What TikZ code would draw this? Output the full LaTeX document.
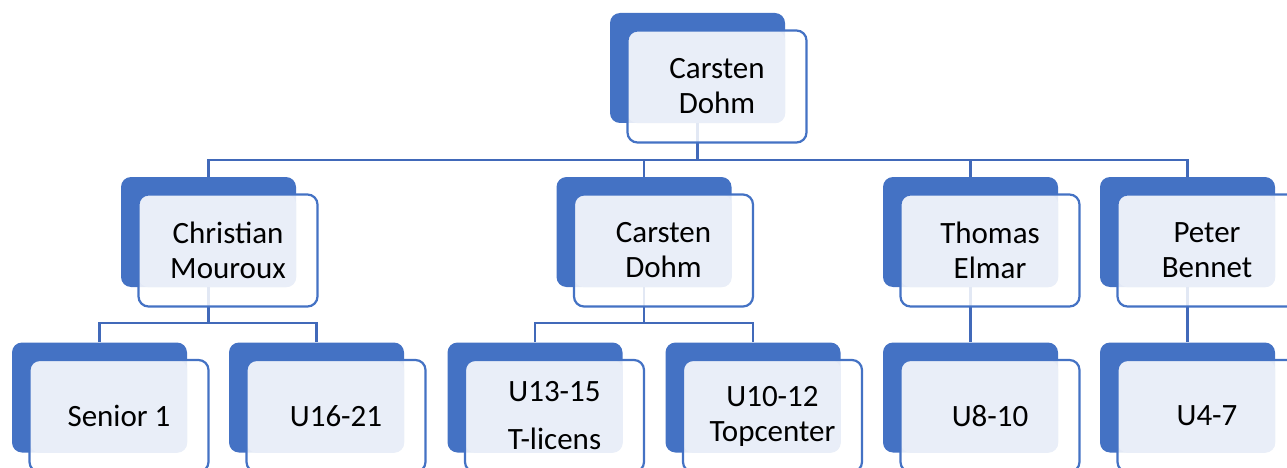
\documentclass[tikz,border=0pt]{standalone}
\usepackage{fontspec}
\setmainfont{Carlito}

\definecolor{chartblue}{HTML}{4472C4}
\definecolor{chartlight}{HTML}{E9EEF8}
\definecolor{linkblue}{HTML}{4169B9}

\pgfdeclarelayer{lines}
\pgfsetlayers{lines,main}

\tikzset{
  back/.style={rectangle, rounded corners=10pt, fill=chartblue,
    minimum width=175pt, minimum height=110pt, inner sep=0pt},
  front/.style={rectangle, rounded corners=10pt, draw=chartblue, line width=2.2pt,
    fill=white, fill opacity=0.85, text opacity=1,
    minimum width=179pt, minimum height=112pt, inner sep=0pt,
    align=center, font=\fontsize{31}{35}\selectfont,
    path picture={\fill[chartlight, fill opacity=1, rounded corners=10pt]
      (path picture bounding box.north west) rectangle (#1.south east);}},
  link/.style={draw=linkblue, line width=2.3pt}
}

\begin{document}
\begin{tikzpicture}[x=1pt, y=-1pt]
  \useasboundingbox (0,0) rectangle (1287,468);
  \clip (0,0) rectangle (1287,468);

  % top
  \node[back] (cd1b) at (697.5,68) {};
  \node[front=cd1b] (cd1) at ([shift={(19.5,18.5)}]cd1b) {Carsten\\Dohm};

  % level 2
  \node[back] (cmb) at (208.5,232) {};
  \node[front=cmb] (cm) at ([shift={(19.5,18.5)}]cmb) {Christian\\Mouroux};
  \node[back] (cd2b) at (644,232) {};
  \node[front=cd2b] (cd2) at ([shift={(19.5,18.5)}]cd2b) {Carsten\\Dohm};
  \node[back] (teb) at (970.5,232) {};
  \node[front=teb] (te) at ([shift={(19.5,18.5)}]teb) {Thomas\\Elmar};
  \node[back] (pbb) at (1187.5,232) {};
  \node[front=pbb] (pb) at ([shift={(19.5,18.5)}]pbb) {Peter\\Bennet};

  % level 3
  \node[back] (senb) at (99.5,397.5) {};
  \node[front=senb] (sen) at ([shift={(19.5,18.5)}]senb) {Senior 1};
  \node[back] (u16b) at (316.5,397.5) {};
  \node[front=u16b] (u16) at ([shift={(19.5,18.5)}]u16b) {U16-21};
  \node[back] (u13b) at (535,397.5) {};
  \node[front=u13b] (u13) at ([shift={(19.5,18.5)}]u13b) {U13-15\\[13pt]T-licens};
  \node[back] (u10b) at (753,397.5) {};
  \node[front=u10b] (u10) at ([shift={(19.5,18.5)}]u10b) {U10-12\\Topcenter};
  \node[back] (u8b) at (970.5,397.5) {};
  \node[front=u8b] (u8) at ([shift={(19.5,18.5)}]u8b) {U8-10};
  \node[back] (u4b) at (1187.5,397.5) {};
  \node[front=u4b] (u4) at ([shift={(19.5,18.5)}]u4b) {U4-7};

  % connectors
  \begin{pgfonlayer}{lines}
    \coordinate (bus1) at (697.5,160);
    \draw[link] (cd1b) -- (bus1);
    \draw[link] (cmb) |- (bus1) -| (pbb);
    \draw[link] (bus1) -| (cd2b);
    \draw[link] (bus1) -| (teb);

    \coordinate (bus2) at (208.5,323);
    \draw[link] (cmb) -- (bus2);
    \draw[link] (senb) |- (bus2) -| (u16b);

    \coordinate (bus3) at (644,323);
    \draw[link] (cd2b) -- (bus3);
    \draw[link] (u13b) |- (bus3) -| (u10b);

    \draw[link] (teb) -- (u8b);
    \draw[link] (pbb) -- (u4b);
  \end{pgfonlayer}
\end{tikzpicture}
\end{document}
